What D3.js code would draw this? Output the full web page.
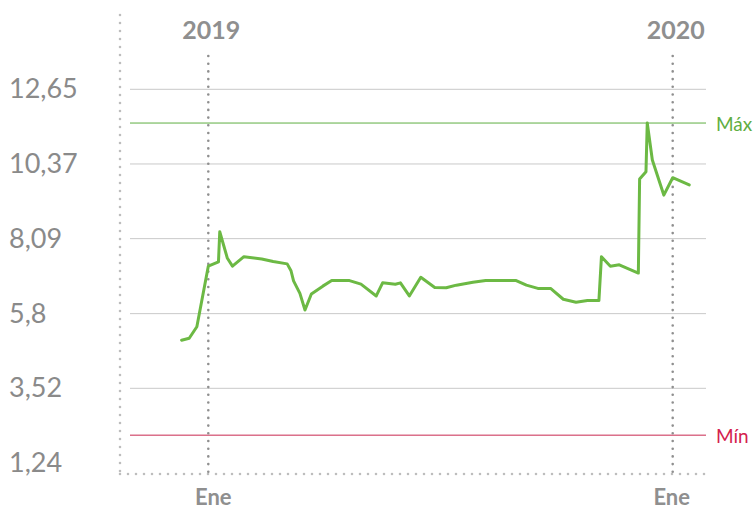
<!DOCTYPE html>
<html>
<head>
<meta charset="utf-8">
<script src="https://cdn.jsdelivr.net/npm/d3@7"></script>
<style>
  body { margin: 0; background: #fff; }
  text { font-family: Lato, "Open Sans", sans-serif; }
</style>
</head>
<body>
<svg id="chart"></svg>
<script>
// serie diaria (aprox)
var dates = [
  "2018-12-11","2018-12-17","2018-12-23","2019-01-01","2019-01-09","2019-01-10",
  "2019-01-16","2019-01-20","2019-01-29","2019-02-12","2019-02-21","2019-03-04",
  "2019-03-07","2019-03-09","2019-03-14","2019-03-18","2019-03-23","2019-04-01",
  "2019-04-08","2019-04-22","2019-05-01","2019-05-13","2019-05-18","2019-05-28",
  "2019-06-01","2019-06-08","2019-06-17","2019-06-28","2019-07-07","2019-07-15",
  "2019-07-28","2019-08-07","2019-08-31","2019-09-08","2019-09-17","2019-09-27",
  "2019-10-07","2019-10-17","2019-10-26","2019-11-04","2019-11-06","2019-11-13",
  "2019-11-20","2019-12-05","2019-12-06","2019-12-11","2019-12-12","2019-12-16",
  "2019-12-25","2020-01-01","2020-01-14"
];
var values = [
  4.99, 5.05, 5.40, 7.25, 7.38, 8.30,
  7.49, 7.25, 7.54, 7.47, 7.39, 7.32,
  7.11, 6.80, 6.42, 5.91, 6.40, 6.64,
  6.81, 6.81, 6.70, 6.34, 6.74, 6.70,
  6.74, 6.34, 6.91, 6.60, 6.59, 6.67,
  6.76, 6.81, 6.81, 6.67, 6.57, 6.57,
  6.24, 6.15, 6.20, 6.20, 7.54, 7.25,
  7.29, 7.04, 9.91, 10.13, 11.62, 10.49,
  9.42, 9.95, 9.73
];
var yTicks = [12.65, 10.37, 8.09, 5.80, 3.52, 1.24];
var yTickLabels = ["12,65", "10,37", "8,09", "5,8", "3,52", "1,24"];
var yearTicks = ["2019-01-01", "2020-01-01"];
var yearLabels = ["2019", "2020"];
var monthLabels = ["Ene", "Ene"];
var maxValue = 11.62;
var minValue = 2.09;

const width = 755;
const height = 511;

var parse = d3.timeParse("%Y-%m-%d");
var data = dates.map(function (d, i) { return { date: parse(d), value: values[i] }; });

const svg = d3.select("#chart").attr("width", width).attr("height", height);

var x = d3.scaleTime()
  .domain([parse("2019-01-01"), parse("2020-01-01")])
  .range([208.3, 672.7]);

var y = d3.scaleLinear()
  .domain([1.24, 12.65])
  .range([463, 89.3]);

var plotLeft = 130, plotRight = 706, axisX = 120, axisY = 474;

// lineas de rejilla
svg.append("g").selectAll("line")
  .data(yTicks.slice(0, 5))
  .enter().append("line")
  .attr("x1", plotLeft).attr("x2", plotRight)
  .attr("y1", function (d) { return y(d); })
  .attr("y2", function (d) { return y(d); })
  .attr("stroke", "#c9c9c9")
  .attr("stroke-width", 1);

// etiquetas eje y
svg.append("g").selectAll("text")
  .data(yTicks)
  .enter().append("text")
  .attr("x", 9)
  .attr("y", function (d) { return y(d) + 9; })
  .attr("fill", "#8a8a8a")
  .attr("font-size", 27)
  .text(function (d, i) { return yTickLabels[i]; });

// ejes punteados
svg.append("line")
  .attr("x1", axisX).attr("x2", axisX)
  .attr("y1", 15).attr("y2", axisY)
  .attr("stroke", "#bdbdbd").attr("stroke-width", 2.6)
  .attr("stroke-linecap", "round").attr("stroke-dasharray", "0 8");
svg.append("line")
  .attr("x1", axisX).attr("x2", 712)
  .attr("y1", axisY).attr("y2", axisY)
  .attr("stroke", "#bdbdbd").attr("stroke-width", 2.6)
  .attr("stroke-linecap", "round").attr("stroke-dasharray", "0 8");

// Max / Min
svg.append("line")
  .attr("x1", plotLeft).attr("x2", plotRight)
  .attr("y1", y(maxValue)).attr("y2", y(maxValue))
  .attr("stroke", "#5fae42").attr("stroke-width", 1);
svg.append("line")
  .attr("x1", plotLeft).attr("x2", plotRight)
  .attr("y1", y(minValue)).attr("y2", y(minValue))
  .attr("stroke", "#c8284f").attr("stroke-width", 1);
svg.append("text")
  .attr("x", 716).attr("y", y(maxValue) + 8)
  .attr("fill", "#5fae42").attr("font-size", 19)
  .text("Máx");
svg.append("text")
  .attr("x", 716).attr("y", y(minValue) + 8)
  .attr("fill", "#d4214e").attr("font-size", 19)
  .text("Mín");

// lineas de año
var years = svg.append("g").selectAll("g")
  .data(yearTicks)
  .enter().append("g");
years.append("line")
  .attr("x1", function (d) { return x(parse(d)); })
  .attr("x2", function (d) { return x(parse(d)); })
  .attr("y1", 56).attr("y2", axisY)
  .attr("stroke", "#8f8f8f").attr("stroke-width", 2.6)
  .attr("stroke-linecap", "round").attr("stroke-dasharray", "0 7.7");
years.append("text")
  .attr("x", function (d) { return x(parse(d)) + 3; })
  .attr("y", 39)
  .attr("text-anchor", "middle")
  .attr("fill", "#8f8f8f")
  .attr("font-size", 25)
  .attr("font-weight", 700)
  .text(function (d, i) { return yearLabels[i]; });
years.append("text")
  .attr("x", function (d, i) { return x(parse(d)) + (i === 0 ? 5 : -1); })
  .attr("y", 505)
  .attr("text-anchor", "middle")
  .attr("fill", "#8f8f8f")
  .attr("font-size", 22)
  .attr("font-weight", 700)
  .text(function (d, i) { return monthLabels[i]; });

// la serie
var line = d3.line()
  .x(function (d) { return x(d.date); })
  .y(function (d) { return y(d.value); });

svg.append("path")
  .datum(data)
  .attr("d", line)
  .attr("fill", "none")
  .attr("stroke", "#6cb944")
  .attr("stroke-width", 3)
  .attr("stroke-linejoin", "round")
  .attr("stroke-linecap", "round");
</script>
</body>
</html>
